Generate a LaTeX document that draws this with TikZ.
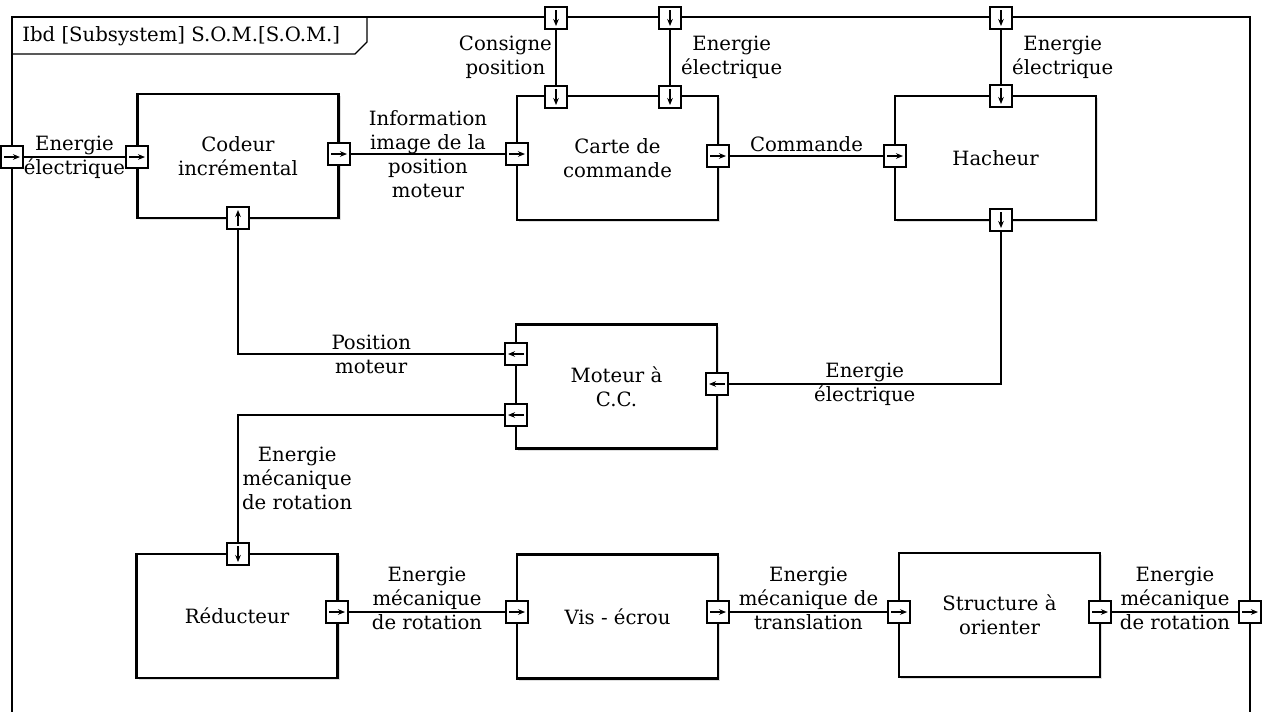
\documentclass[tikz,border=0pt]{standalone}
\usepackage{fontspec}
\setmainfont{DejaVu Serif}
\usetikzlibrary{arrows.meta,shadows}
\newcommand\lblfont{\fontsize{11.2}{13.6}\selectfont}
\tikzset{
	block/.style={draw, line width=1.4pt, fill=white, minimum width=4.02cm, minimum height=2.48cm, align=center, font=\lblfont, drop shadow={opacity=0.25, shadow xshift=1.4pt, shadow yshift=-1.4pt}},
	port/.style={draw, line width=0.6pt, fill=white, minimum width=0.44cm, minimum height=0.44cm, inner sep=0pt},
	portarrow/.style={line width=0.6pt, -{Stealth[length=4pt,width=3.2pt]}},
	flow/.style={line width=0.7pt},
	lbl/.style={align=center, font=\lblfont, inner sep=2pt}
}
\def\port(#1)(#2,#3)(#4){\node[port] (#1) at (#2,#3) {}; \draw[portarrow] (#1.center) ++(#4+180:8) -- ++(#4:16);}

\begin{document}
\begin{tikzpicture}[x=0.02cm, y=-0.02cm]
		%%%%% START %%%%%
		\useasboundingbox (0,0) rectangle (1265,711);
		
		\draw[line width=1.1pt] (12,740) -- (12,17) -- (1250,17) -- (1250,740);
		\draw[line width=0.7pt] (12,54) -- (355,54) -- (367,42) -- (367,17);
		\node[anchor=west, font=\lblfont, inner sep=0pt] (titre) at (22,36) {Ibd [Subsystem] S.O.M.[S.O.M.]};
		
		\node[block] (codeur) at (238,156) {Codeur\\incrémental};
		\node[block] (carte) at (617.5,158) {Carte de\\commande};
		\node[block] (hacheur) at (995.5,158) {Hacheur};
		\node[block] (moteur) at (616.5,386.5) {Moteur à\\C.C.};
		\node[block] (reducteur) at (237,616) {Réducteur};
		\node[block] (vis) at (617.5,616.5) {Vis - écrou};
		\node[block] (structure) at (999.5,615) {Structure à\\orienter};
		
		\port(pE1)(12,157)(0)
		\port(pC1)(137,157)(0)
		\port(pC2)(339,154)(0)
		\port(pK1)(517,154)(0)
		\port(pK2)(718,156)(0)
		\port(pH1)(895,156)(0)
		\port(pE2)(556,18)(90)
		\port(pK3)(556,97)(90)
		\port(pE3)(670,18)(90)
		\port(pK4)(670,97)(90)
		\port(pE4)(1001,18)(90)
		\port(pH2)(1001,96)(90)
		\port(pH3)(1001,220)(90)
		\port(pM1)(717,384)(180)
		\port(pM2)(516,354)(180)
		\port(pC3)(238,218)(270)
		\port(pM3)(516,415)(180)
		\port(pR1)(238,554)(90)
		\port(pR2)(337,612)(0)
		\port(pV1)(517,612)(0)
		\port(pV2)(718,612)(0)
		\port(pS1)(899,612)(0)
		\port(pS2)(1100,612)(0)
		\port(pE5)(1250,612)(0)
		
		\draw[flow] (pE1) -- node[lbl] (l1) {Energie\\électrique} (pC1);
		\draw[flow] (pC2) -- node[lbl] (l2) {Information\\image de la\\position\\moteur} (pK1);
		\draw[flow] (pK2) -- node[lbl, above] (l3) {Commande} (pH1);
		\draw[flow] (pE2) -- node[lbl, left] (l4) {Consigne\\position} (pK3);
		\draw[flow] (pE3) -- node[lbl, right, xshift=4pt] (l5) {Energie\\électrique} (pK4);
		\draw[flow] (pE4) -- node[lbl, right, xshift=4pt] (l6) {Energie\\électrique} (pH2);
		\draw[flow] (pH3) |- node[lbl, pos=0.75] (l7) {Energie\\électrique} (pM1);
		\draw[flow] (pM2) -| node[lbl, pos=0.25] (l8) {Position\\moteur} (pC3);
		\draw[flow] (pM3) -| node[lbl, right, pos=0.75] (l9) {Energie\\mécanique\\de rotation} (pR1);
		\draw[flow] (pR2) -- node[lbl, yshift=7.6pt] (l10) {Energie\\mécanique\\de rotation} (pV1);
		\draw[flow] (pV2) -- node[lbl, yshift=7.6pt] (l11) {Energie\\mécanique de\\translation} (pS1);
		\draw[flow] (pS2) -- node[lbl, yshift=7.6pt] (l12) {Energie\\mécanique\\de rotation} (pE5);
		%%%%% END %%%%%
\end{tikzpicture}
\end{document}
